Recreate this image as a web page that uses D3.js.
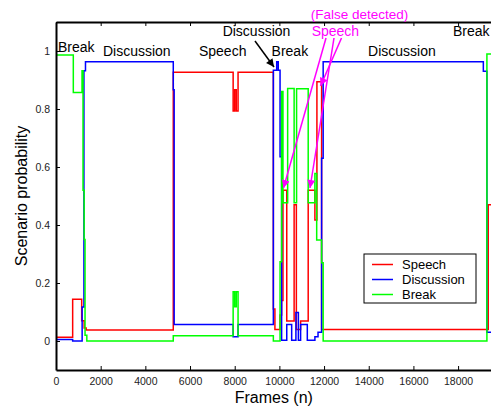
<!DOCTYPE html>
<html>
<head>
<meta charset="utf-8">
<script src="https://cdn.jsdelivr.net/npm/d3@7"></script>
<style>
  body { margin: 0; background: #fff; }
  svg { font-family: "Liberation Sans", Arial, sans-serif; }
</style>
</head>
<body>
<div id="d1"></div>
<script>
// step series: [frame, probability]
const speech = [
  [0, 0.013], [746, 0.144], [1150, 0.07], [1260, 0.045], [1350, 0.038],
  [5250, 0.927], [7930, 0.793], [8000, 0.866], [8070, 0.793], [8150, 0.927],
  [9730, 0.11], [9800, 0.04], [10030, 0.09], [10100, 0.14], [10160, 0.52],
  [10330, 0.069], [10660, 0.47], [10760, 0.04], [10950, 0.069], [11290, 0.52],
  [11590, 0.417], [11680, 0.894], [11890, 0.04], [19350, 0.47], [19500, 0.47]
];
const discussion = [
  [0, 0.005], [746, 0.0], [1170, 0.117], [1250, 0.932], [1320, 0.963],
  [5250, 0.866], [5290, 0.057], [7930, 0.015], [8150, 0.057],
  [9730, 0.934], [9880, 0.963], [9950, 0.934], [10030, 0.635], [10100, 0.003],
  [10330, 0.057], [10550, 0.003], [10740, 0.098], [10850, 0.003], [10950, 0.057],
  [11250, 0.003], [11590, 0.015], [11730, 0.03], [11890, 0.63], [11960, 0.963],
  [19130, 0.93], [19290, 0.03], [19500, 0.03]
];
const breakP = [
  [0, 0.986], [775, 0.857], [1165, 0.932], [1210, 0.52], [1260, 0.35],
  [1300, 0.02], [1380, 0.0], [5250, 0.018], [7930, 0.17], [8000, 0.118],
  [8070, 0.17], [8150, 0.018], [9730, 0.0], [10030, 0.273], [10100, 0.86],
  [10160, 0.477], [10370, 0.871], [10660, 0.477], [10770, 0.87], [11290, 0.477],
  [11590, 0.578], [11670, 0.348], [11890, 0.27], [11960, 0.0], [19290, 0.99],
  [19500, 0.99]
];
const xTicks = [0, 2000, 4000, 6000, 8000, 10000, 12000, 14000, 16000, 18000];
const yTicks = [0, 0.2, 0.4, 0.6, 0.8, 1];
const seriesNames = ["Speech", "Discussion", "Break"];
const seriesColors = ["#ff0000", "#0000ff", "#00ff00"];
// scenario labels: [text, frame, probability]
const scenarioLabels = [
  ["Break", 90, 0.997], ["Discussion", 2100, 0.983], ["Speech", 6400, 0.983],
  ["Discussion", 7460, 1.052], ["Break", 9650, 0.984],
  ["Discussion", 13970, 0.983], ["Break", 17770, 1.052]
];

const width = 491, height = 409;
const margin = { top: 22, left: 56, bottom: 39 };

const x = d3.scaleLinear().domain([0, 19500]).range([margin.left, 491.6]);
const y = d3.scaleLinear().domain([-0.1, 1.1]).range([height - margin.bottom, margin.top]);

const svg = d3.select("#d1").append("svg")
  .attr("width", width).attr("height", height)
  .attr("viewBox", [0, 0, width, height]);

const defs = svg.append("defs");
defs.append("clipPath").attr("id", "clip").append("rect")
  .attr("x", x(0)).attr("y", y(1.1)).attr("width", x(19500) - x(0)).attr("height", y(-0.1) - y(1.1));
["black", "#ff00ff"].forEach((c, i) => {
  defs.append("marker").attr("id", "arr" + i)
    .attr("viewBox", "0 0 10 10").attr("refX", 10).attr("refY", 5)
    .attr("markerWidth", 10).attr("markerHeight", 8).attr("markerUnits", "userSpaceOnUse")
    .attr("orient", "auto")
    .append("path").attr("d", "M0,0L10,5L0,10Z").attr("fill", c);
});

const line = d3.line()
  .curve(d3.curveStepAfter)
  .x(d => x(d[0]))
  .y(d => y(d[1]));

const plot = svg.append("g").attr("clip-path", "url(#clip)");
[speech, discussion, breakP].forEach((s, i) => {
  plot.append("path")
    .datum(s)
    .attr("fill", "none")
    .attr("stroke", seriesColors[i])
    .attr("stroke-width", 1.5)
    .attr("d", line);
});

// axes (ticks pointing inward)
svg.append("g")
  .attr("transform", `translate(0,${y(-0.1)})`)
  .call(d3.axisBottom(x).tickValues(xTicks).tickSizeInner(-4).tickSizeOuter(0).tickPadding(8)
    .tickFormat(d3.format("d")))
  .call(g => g.select(".domain").attr("stroke-width", 2));
svg.append("g")
  .attr("transform", `translate(0,${y(1.1)})`)
  .call(d3.axisTop(x).tickValues(xTicks).tickSizeInner(-4).tickSizeOuter(0).tickFormat(""))
  .call(g => g.select(".domain").attr("stroke-width", 2));
svg.append("g")
  .attr("transform", `translate(${x(0)},0)`)
  .call(d3.axisLeft(y).tickValues(yTicks).tickSizeInner(-4).tickSizeOuter(0).tickPadding(6)
    .tickFormat(d => d === 0 || d === 1 ? d : d3.format(".1f")(d)))
  .call(g => g.select(".domain").attr("stroke-width", 2));
svg.selectAll(".tick text").attr("font-size", 10.5).attr("fill", "#222")
  .attr("font-family", "Liberation Sans, Arial, sans-serif");

svg.append("text")
  .attr("x", (x(0) + 491.6) / 2).attr("y", 403)
  .attr("text-anchor", "middle").attr("font-size", 16)
  .text("Frames (n)");
svg.append("text")
  .attr("transform", `translate(27,${(y(-0.1) + y(1.1)) / 2}) rotate(-90)`)
  .attr("text-anchor", "middle").attr("font-size", 16)
  .text("Scenario probability");

// scenario labels
svg.append("g").attr("font-size", 14)
  .selectAll("text").data(scenarioLabels).join("text")
  .attr("x", d => x(d[1])).attr("y", d => y(d[2]))
  .text(d => d[0]);

// black arrow
svg.append("line")
  .attr("x1", 255).attr("y1", 41).attr("x2", 274).attr("y2", 67)
  .attr("stroke", "black").attr("stroke-width", 1.5)
  .attr("marker-end", "url(#arr0)");

// false detections
svg.append("text").attr("x", x(11400)).attr("y", y(1.112))
  .attr("font-size", 13.5).attr("fill", "#ff00ff").text("(False detected)");
svg.append("text").attr("x", x(11445)).attr("y", y(1.053))
  .attr("font-size", 14).attr("fill", "#ff00ff").text("Speech");
[[326, 38, 283.5, 188], [334, 38, 310, 188], [341.5, 38, 320.5, 86]].forEach(a => {
  svg.append("line")
    .attr("x1", a[0]).attr("y1", a[1]).attr("x2", a[2]).attr("y2", a[3])
    .attr("stroke", "#ff00ff").attr("stroke-width", 1.5)
    .attr("marker-end", "url(#arr1)");
});

// legend
const legend = svg.append("g").attr("transform", "translate(364,254)");
legend.append("rect").attr("width", 112).attr("height", 49)
  .attr("fill", "white").attr("stroke", "black").attr("stroke-width", 1);
const item = legend.selectAll("g.item").data(seriesNames).join("g")
  .attr("class", "item")
  .attr("transform", (d, i) => `translate(0,${10.5 + i * 15})`);
item.append("line").attr("x1", 8).attr("x2", 29)
  .attr("stroke", (d, i) => seriesColors[i]).attr("stroke-width", 1.5);
item.append("text").attr("x", 38).attr("y", 4.5).attr("font-size", 13).text(d => d);
</script>
</body>
</html>
